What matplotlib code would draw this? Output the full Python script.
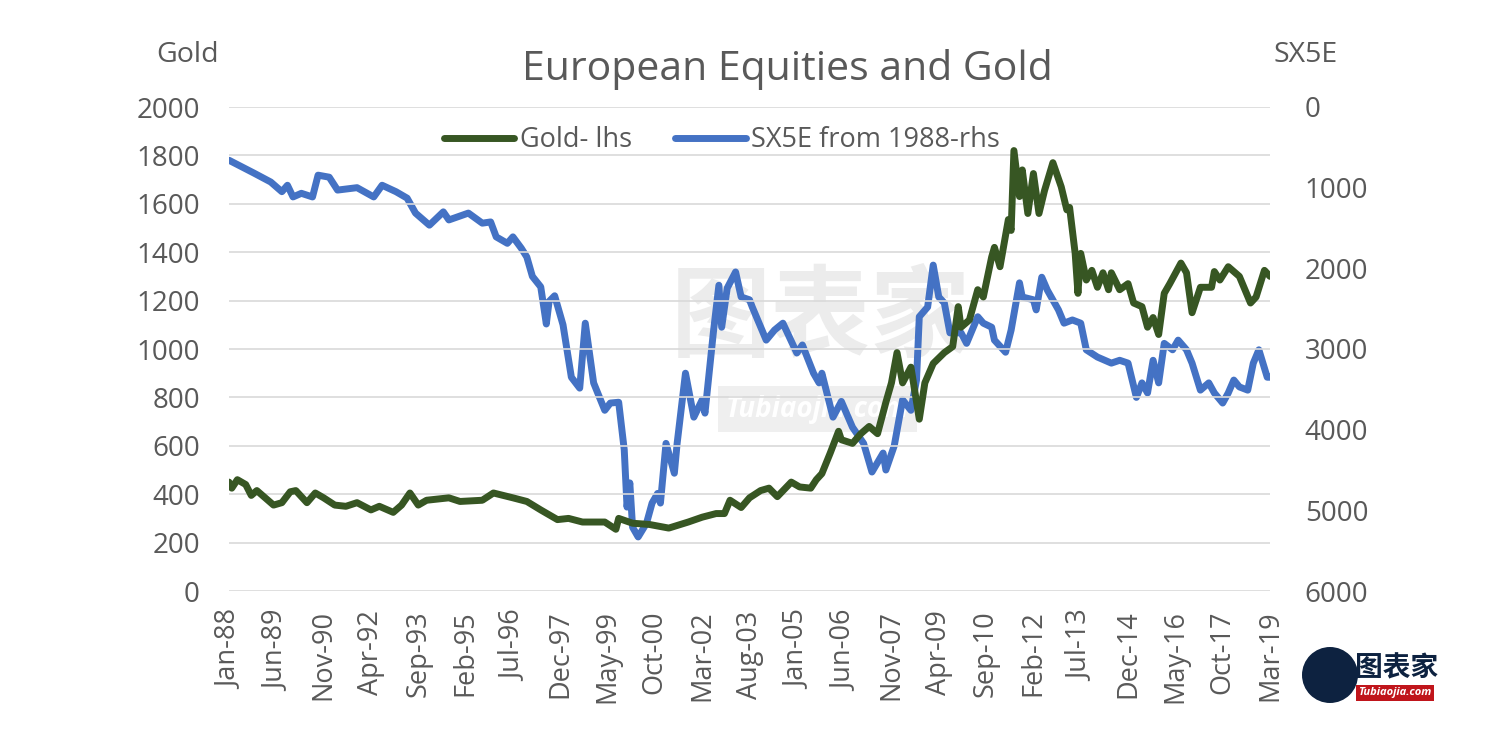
import matplotlib
matplotlib.use('Agg')
import matplotlib.pyplot as plt
import pandas as pd
from matplotlib.patches import Ellipse

# ---- data ----
gold_dates = ['1988-01', '1988-02', '1988-04', '1988-07', '1988-09', '1988-11', '1989-03', '1989-05',
              '1989-08', '1989-11', '1990-01', '1990-05', '1990-08', '1990-11', '1991-03', '1991-07',
              '1991-11', '1992-04', '1992-07', '1992-12', '1993-03', '1993-06', '1993-09', '1993-12',
              '1994-08', '1994-12', '1995-08', '1995-12', '1996-07', '1996-12', '1997-05', '1997-11',
              '1998-03', '1998-08', '1999-04', '1999-08', '1999-09', '2000-02', '2000-08', '2001-03',
              '2001-10', '2002-03', '2002-08', '2002-11', '2003-01', '2003-05', '2003-08', '2003-12',
              '2004-03', '2004-06', '2004-11', '2005-02', '2005-06', '2005-08', '2005-10', '2006-01',
              '2006-04', '2006-05', '2006-09', '2006-12', '2007-03', '2007-06', '2007-09', '2007-11',
              '2008-01', '2008-03', '2008-06', '2008-09', '2008-11', '2009-02', '2009-06', '2009-09',
              '2009-11', '2009-12', '2010-03', '2010-06', '2010-08', '2010-11', '2010-12', '2011-02',
              '2011-05', '2011-06', '2011-07', '2011-09', '2011-10', '2011-12', '2012-02', '2012-04',
              '2012-06', '2012-09', '2012-12', '2013-02', '2013-03', '2013-05', '2013-06', '2013-07',
              '2013-09', '2013-11', '2014-01', '2014-03', '2014-05', '2014-06', '2014-09', '2014-12',
              '2015-02', '2015-05', '2015-07', '2015-09', '2015-11', '2016-01', '2016-03', '2016-07',
              '2016-09', '2016-11', '2017-02', '2017-06', '2017-07', '2017-09', '2017-12', '2018-04',
              '2018-08', '2018-10', '2019-01', '2019-03']
gold_vals = [450, 425, 460, 440, 395, 415, 375, 355,
             365, 410, 415, 365, 405, 385, 355, 350,
             365, 335, 350, 325, 355, 405, 355, 375,
             385, 370, 375, 405, 385, 370, 335, 295,
             300, 285, 285, 255, 300, 280, 275, 260,
             285, 305, 320, 320, 375, 345, 385, 415,
             425, 390, 450, 430, 425, 460, 485, 570,
             660, 625, 610, 650, 680, 650, 780, 860,
             985, 860, 925, 710, 860, 940, 985, 1010,
             1175, 1090, 1120, 1245, 1215, 1380, 1420, 1340,
             1535, 1490, 1820, 1630, 1740, 1560, 1725, 1560,
             1655, 1770, 1670, 1575, 1585, 1395, 1230, 1395,
             1285, 1325, 1255, 1315, 1245, 1315, 1245, 1270,
             1190, 1175, 1090, 1130, 1060, 1230, 1270, 1355,
             1315, 1150, 1255, 1255, 1320, 1285, 1340, 1300,
             1190, 1215, 1325, 1300]

sx5e_dates = ['1988-01', '1988-10', '1989-04', '1989-08', '1989-10', '1989-12', '1990-03', '1990-07',
              '1990-09', '1991-01', '1991-04', '1991-11', '1992-05', '1992-08', '1993-01', '1993-05',
              '1993-08', '1994-01', '1994-06', '1994-08', '1995-03', '1995-08', '1995-11', '1996-01',
              '1996-05', '1996-07', '1996-10', '1996-12', '1997-02', '1997-05', '1997-07', '1997-08',
              '1997-10', '1998-01', '1998-04', '1998-07', '1998-09', '1998-12', '1999-04', '1999-06',
              '1999-09', '1999-11', '1999-12', '2000-01', '2000-02', '2000-04', '2000-07', '2000-09',
              '2000-11', '2000-12', '2001-02', '2001-05', '2001-06', '2001-09', '2001-12', '2002-03',
              '2002-04', '2002-07', '2002-09', '2002-10', '2002-12', '2003-03', '2003-05', '2003-08',
              '2003-09', '2004-02', '2004-05', '2004-08', '2005-01', '2005-03', '2005-07', '2005-09',
              '2005-10', '2006-02', '2006-05', '2006-09', '2007-01', '2007-04', '2007-08', '2007-09',
              '2007-12', '2008-03', '2008-06', '2008-08', '2008-09', '2008-12', '2009-02', '2009-04',
              '2009-06', '2009-08', '2009-12', '2010-02', '2010-04', '2010-06', '2010-08', '2010-11',
              '2010-12', '2011-04', '2011-06', '2011-09', '2011-10', '2012-02', '2012-03', '2012-05',
              '2012-07', '2012-11', '2013-01', '2013-04', '2013-07', '2013-09', '2014-01', '2014-06',
              '2014-09', '2014-12', '2015-03', '2015-05', '2015-07', '2015-09', '2015-11', '2016-01',
              '2016-04', '2016-06', '2016-09', '2016-11', '2017-02', '2017-05', '2017-07', '2017-10',
              '2017-12', '2018-02', '2018-04', '2018-07', '2018-09', '2018-11', '2019-02', '2019-03']
sx5e_vals = [660, 820, 930, 1050, 970, 1115, 1070, 1115,
             845, 870, 1030, 1000, 1115, 970, 1050, 1130,
             1315, 1465, 1300, 1400, 1315, 1440, 1425, 1610,
             1690, 1610, 1750, 1860, 2100, 2230, 2690, 2410,
             2340, 2700, 3350, 3485, 2680, 3420, 3760, 3670,
             3660, 4250, 4960, 4660, 5210, 5330, 5160, 4910,
             4790, 4910, 4170, 4540, 4170, 3300, 3845, 3630,
             3795, 2800, 2210, 2730, 2245, 2045, 2355, 2390,
             2480, 2890, 2765, 2680, 3050, 2950, 3300, 3420,
             3300, 3845, 3650, 3970, 4170, 4525, 4290, 4500,
             4200, 3630, 3760, 3385, 2600, 2480, 1960, 2355,
             2430, 2800, 2800, 2930, 2765, 2600, 2680, 2730,
             2890, 3040, 2765, 2180, 2355, 2390, 2515, 2110,
             2270, 2515, 2680, 2640, 2680, 3010, 3100, 3175,
             3140, 3175, 3600, 3420, 3545, 3140, 3420, 2930,
             3010, 2890, 3010, 3175, 3510, 3420, 3545, 3670,
             3545, 3385, 3470, 3510, 3175, 3010, 3350, 3350]

tick_labels = ['Jan-88', 'Jun-89', 'Nov-90', 'Apr-92', 'Sep-93', 'Feb-95', 'Jul-96', 'Dec-97',
               'May-99', 'Oct-00', 'Mar-02', 'Aug-03', 'Jan-05', 'Jun-06', 'Nov-07', 'Apr-09',
               'Sep-10', 'Feb-12', 'Jul-13', 'Dec-14', 'May-16', 'Oct-17', 'Mar-19']


def month_index(dates):
    d = pd.to_datetime(dates, format='%Y-%m')
    return (d.year - 1988) * 12 + (d.month - 1)


gold_x = month_index(gold_dates)
sx5e_x = month_index(sx5e_dates)
tick_x = month_index(pd.to_datetime(tick_labels, format='%b-%y').strftime('%Y-%m'))

GREEN = '#375623'
BLUE = '#4472C4'
GREY = '#595959'

plt.rcParams['font.family'] = ['Open Sans', 'Noto Sans CJK SC', 'DejaVu Sans']

fig = plt.figure(figsize=(15, 7.51), dpi=100)
ax = fig.add_axes([229 / 1500, 1 - 591 / 751, (1270 - 229) / 1500, (591 - 107) / 751])
ax2 = ax.twinx()

# faint watermark behind the lines
fig.text(0.547, 0.575, '图表家', fontsize=72, color='#ececec', ha='center', va='center',
         weight='bold', zorder=-1, family=['Noto Sans CJK SC'])
fig.text(0.545, 0.455, 'Tubiaojia.com', fontsize=20, color='white', ha='center', va='center',
         weight='bold', style='italic', zorder=-1,
         bbox=dict(boxstyle='square,pad=0.3', facecolor='#efefef', edgecolor='none'))

ax.set_xlim(0, 374)
ax.set_ylim(0, 2000)
ax.set_yticks(range(0, 2001, 200))
ax2.set_ylim(6000, 0)
ax2.set_yticks(range(0, 6001, 1000))

ax.grid(axis='y', color='#d9d9d9', lw=1.2)
ax.set_axisbelow(True)
for a in (ax, ax2):
    for s in a.spines.values():
        s.set_visible(False)
    a.patch.set_visible(False)

l2, = ax2.plot(sx5e_x, sx5e_vals, color=BLUE, lw=5, solid_joinstyle='round',
               solid_capstyle='round', label='SX5E from 1988-rhs')
l1, = ax.plot(gold_x, gold_vals, color=GREEN, lw=5, solid_joinstyle='round',
              solid_capstyle='round', label='Gold- lhs')
ax.set_zorder(ax2.get_zorder() + 1)

ax.set_xticks(tick_x)
ax.set_xticklabels(tick_labels, rotation=90, fontsize=19.5, color=GREY)
ax.tick_params(axis='x', length=0, pad=14)
ax.tick_params(axis='y', length=0, pad=21, labelsize=20, labelcolor=GREY)
ax2.tick_params(axis='y', length=0, pad=25, labelsize=20, labelcolor=GREY)

fig.text(188 / 1500, 1 - 55 / 751, 'Gold', fontsize=20.5, color=GREY, ha='center', va='center')
fig.text(1306 / 1500, 1 - 55 / 751, 'SX5E', fontsize=20.5, color=GREY, ha='center', va='center')
fig.text(787 / 1500, 1 - 70 / 751, 'European Equities and Gold', fontsize=29.5, color=GREY,
         ha='center', va='center')

leg = fig.legend(handles=[l1, l2], loc='center', bbox_to_anchor=(722 / 1500, 1 - 140 / 751),
                 ncol=2, frameon=False, fontsize=19.5, handlelength=2.6, handletextpad=0.2,
                 columnspacing=1.6)
for t in leg.get_texts():
    t.set_color(GREY)

# logo bottom right
fig.patches.append(Ellipse((1330 / 1500, 1 - 675 / 751), 56 / 1500, 56 / 751,
                           transform=fig.transFigure, facecolor='#0d2240', edgecolor='none'))
fig.text(1397 / 1500, 1 - 668 / 751, '图表家', fontsize=20, color='#0d2240', ha='center',
         va='center', weight='bold', family=['Noto Sans CJK SC'])
fig.text(1395 / 1500, 1 - 693 / 751, 'Tubiaojia.com', fontsize=8, color='white', ha='center',
         va='center', weight='bold', style='italic',
         bbox=dict(boxstyle='square,pad=0.2', facecolor='#c0151b', edgecolor='none'))

fig.savefig('out.png', dpi=100)
